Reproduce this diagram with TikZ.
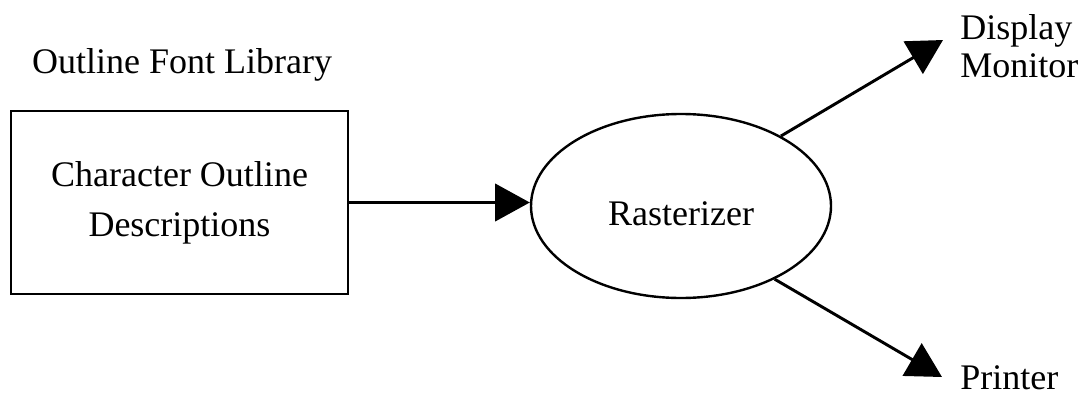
\documentclass[tikz,border=0pt]{standalone}
\usepackage{fontspec}
\setmainfont{Liberation Serif}
\usetikzlibrary{arrows.meta,shapes.geometric}
\begin{document}
\begin{tikzpicture}[x=0.75pt,y=-0.75pt,
  lbl/.style={inner sep=0pt, font=\fontsize{27}{37.5}\selectfont},
  flow/.style={line width=2.2pt, -{Triangle[length=26pt,width=28pt]}}]
\useasboundingbox (0,0) rectangle (1091,400);
% library title and its box
\node[lbl, anchor=base] (lib) at (182,73) {Outline Font Library};
\node[lbl, draw, line width=2.2pt, minimum width=252.75pt, minimum height=137.25pt,
      align=center] (box) at (179.5,202.5) {Character Outline\\Descriptions};
% rasterizer
\node[lbl, draw, ellipse, line width=1.8pt, minimum width=225pt, minimum height=138pt,
      text height=28.5pt, text depth=0pt] (ras) at (681,206) {Rasterizer};
% output devices (multi-line base anchor sits on the last line)
\node[lbl, anchor=base west, align=left, font=\fontsize{27}{28}\selectfont]
  (disp) at (960,77) {Display\\Monitor};
\node[lbl, anchor=base west] (prn) at (960,389) {Printer};
\coordinate (dtip) at (943,40);
\coordinate (ptip) at (942,377);
% connectors
\draw[flow] (box.east) -- (box.east -| ras.west);
\draw[flow] (ras.35.6) -- (dtip);
\draw[flow] (ras.-38.2) -- (ptip);
\end{tikzpicture}
\end{document}
